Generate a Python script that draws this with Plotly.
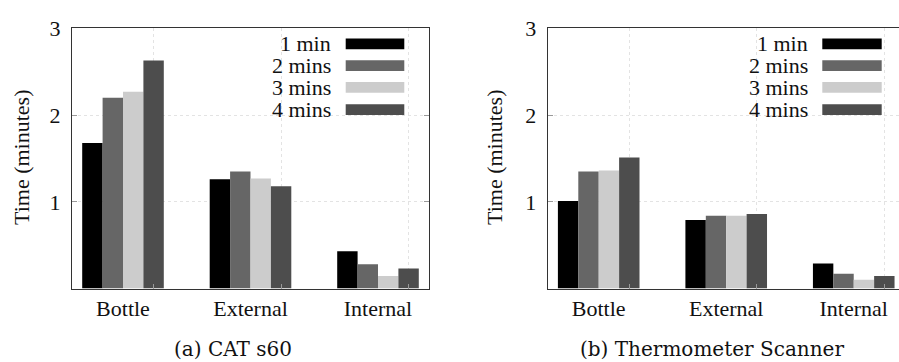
import plotly.graph_objects as go

categories = ["Bottle", "External", "Internal"]
series_names = ["1 min", "2 mins", "3 mins", "4 mins"]
series_colors = ["#000000", "#666666", "#cccccc", "#4d4d4d"]

cat_s60 = {
    "1 min": [1.68, 1.26, 0.43],
    "2 mins": [2.20, 1.35, 0.28],
    "3 mins": [2.27, 1.27, 0.145],
    "4 mins": [2.63, 1.18, 0.23],
}
thermo_scanner = {
    "1 min": [1.01, 0.79, 0.29],
    "2 mins": [1.35, 0.84, 0.17],
    "3 mins": [1.36, 0.84, 0.10],
    "4 mins": [1.51, 0.86, 0.145],
}
y_ticks = [1, 2, 3]
captions = ["(a) CAT s60", "(b) Thermometer Scanner"]
y_title = "Time (minutes)"

W, H = 899, 362
FONT = "Liberation Serif"
CAPFONT = "DejaVu Serif"


def px(x):
    return x / W


def py(y):
    return 1 - y / H


fig = go.Figure()
xpos = list(range(len(categories)))
for k, (data, xa, ya) in enumerate([(cat_s60, "x", "y"), (thermo_scanner, "x2", "y2")]):
    for name, color in zip(series_names, series_colors):
        fig.add_trace(go.Bar(
            x=xpos, y=data[name], name=name, marker_color=color,
            marker_line_width=0, xaxis=xa, yaxis=ya, showlegend=False,
        ))

ydom = [py(286), py(17)]
GRID = "#e3e3e3"
common_x = dict(
    tickmode="array", tickvals=xpos, ticktext=categories, ticks="",
    showgrid=False, showline=True, linecolor="#333333", linewidth=1, mirror=True,
    tickfont=dict(family=FONT, size=22, color="#111"), zeroline=False,
    minor=dict(tick0=0.24, dtick=1, ticks="inside", ticklen=5, tickcolor="#999",
               showgrid=True, gridcolor=GRID, griddash="dot", gridwidth=1),
)
common_y = dict(
    range=[0, 3], tickmode="array", tickvals=y_ticks, ticks="inside", ticklen=5,
    tickcolor="#999", showgrid=True, gridcolor=GRID, griddash="dot", gridwidth=1,
    showline=True, linecolor="#333333", linewidth=1, zeroline=False,
    tickfont=dict(family=FONT, size=22, color="#111"), ticklabelstandoff=6,
)

fig.update_layout(
    width=W, height=H, margin=dict(l=0, r=0, t=0, b=0),
    plot_bgcolor="white", paper_bgcolor="white",
    font=dict(family=FONT),
    barmode="group", bargap=0.36, bargroupgap=0,
    xaxis=dict(domain=[px(72), px(429)], range=[-0.4, 2.4], anchor="y", **common_x),
    yaxis=dict(domain=ydom, anchor="x", mirror="ticks", **common_y),
    xaxis2=dict(domain=[px(547.7), 1.0], range=[-0.4, 2.355], anchor="y2", **common_x),
    yaxis2=dict(domain=ydom, anchor="x2", mirror=False, **common_y),
)

shapes = []
annotations = []
legend_specs = [(332, 345.7, 404.3), (809, 822.3, 881.7)]
row_y = [33, 55.5, 78, 101]
for text_right, box_l, box_r in legend_specs:
    shapes.append(dict(type="rect", xref="paper", yref="paper", layer="between",
                       x0=px(box_l - 96), x1=min(1.0, px(box_r + 22)),
                       y0=py(110), y1=py(21), fillcolor="white", line_width=0))
    for name, color, ry in zip(series_names, series_colors, row_y):
        shapes.append(dict(type="rect", xref="paper", yref="paper", layer="above",
                           x0=px(box_l), x1=px(box_r), y0=py(ry + 5.5), y1=py(ry - 5.5),
                           fillcolor=color, line_width=0))
        annotations.append(dict(text=name, xref="paper", yref="paper", x=px(text_right),
                                y=py(ry), xanchor="right", yanchor="middle", showarrow=False,
                                borderpad=0, font=dict(family=FONT, size=22, color="#111")))

for tx in [22, 495]:
    annotations.append(dict(text=y_title, textangle=-90, xref="paper", yref="paper",
                            x=px(tx), y=py(151), xanchor="center", yanchor="middle",
                            showarrow=False, font=dict(family=FONT, size=22, color="#111")))

for cap, cx in zip(captions, [233, 712]):
    annotations.append(dict(text=cap, xref="paper", yref="paper", x=px(cx), y=py(349),
                            xanchor="center", yanchor="middle", showarrow=False,
                            font=dict(family=CAPFONT, size=20, color="#111")))

fig.update_layout(shapes=shapes, annotations=annotations)
fig.write_html("out.html")
